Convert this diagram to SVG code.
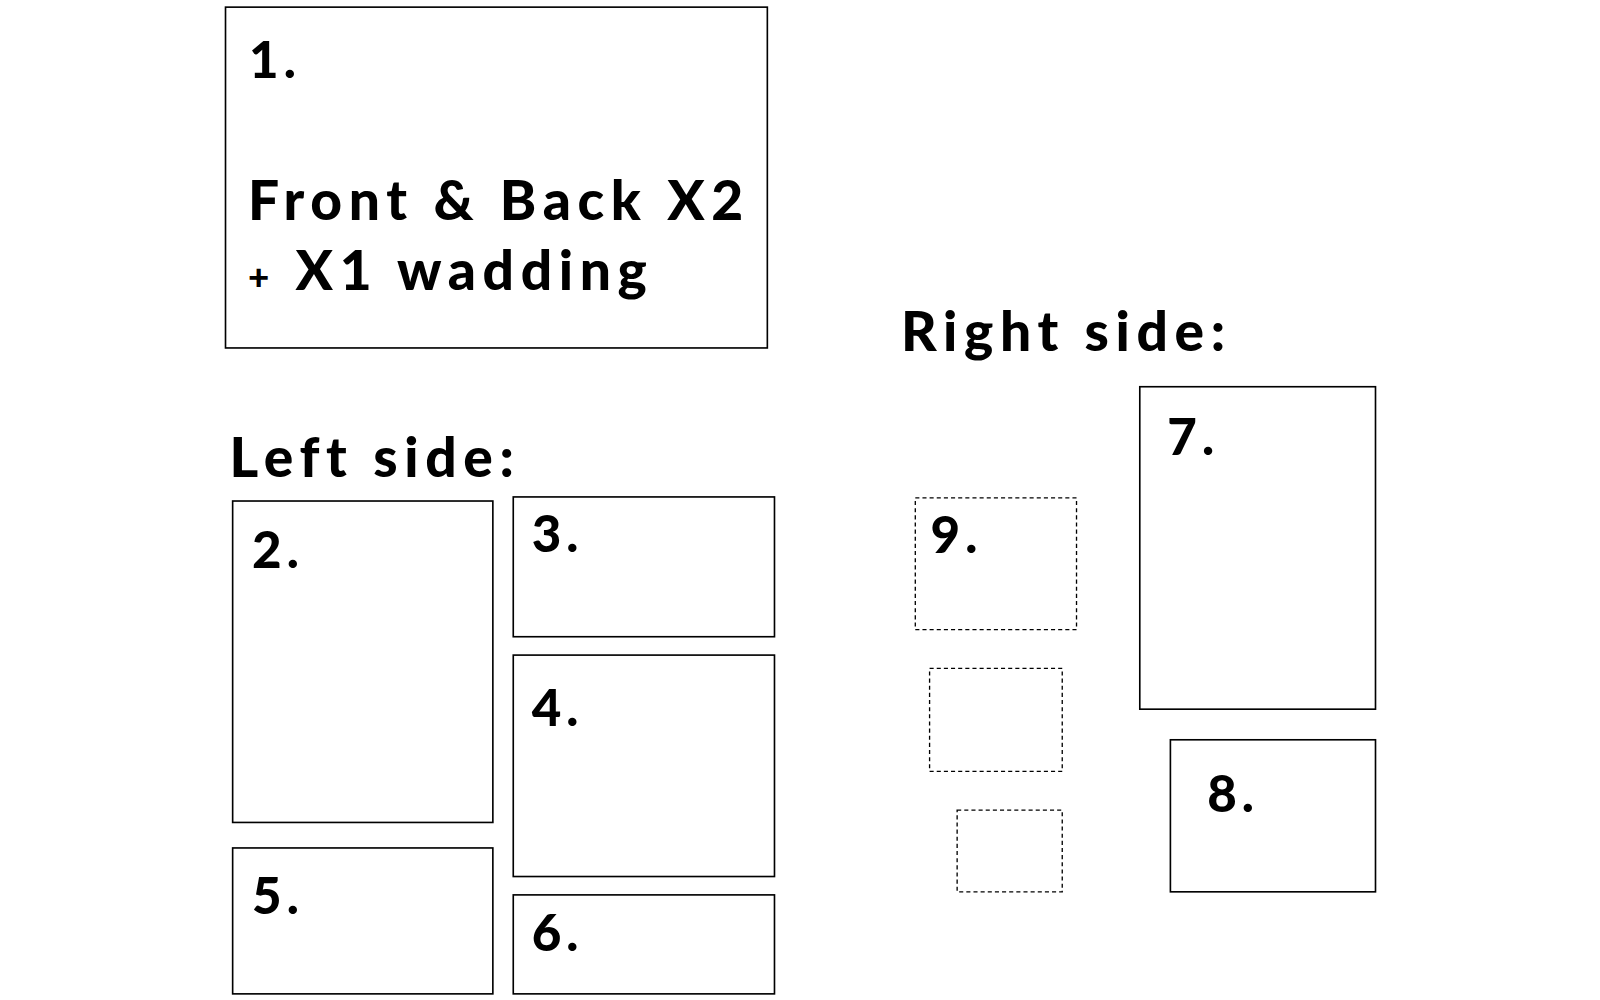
<svg xmlns="http://www.w3.org/2000/svg" width="1600" height="1000" viewBox="0 0 1600 1000">
<style>
.b{fill:#fff;stroke:#000;stroke-width:1.6}
.d{fill:#fff;stroke:#000;stroke-width:1.3;stroke-dasharray:4 3}
text{font-family:"Lato","Liberation Sans",sans-serif;font-weight:900;fill:#000;letter-spacing:5px}
.n{font-size:50px}
.h{font-size:54px;letter-spacing:6.5px}
</style>
<rect width="1600" height="1000" fill="#fff"/>
<g transform="scale(1.0204)">
<g id="node1"><rect class="b" x="221" y="7" width="531" height="334"/>
<text class="n" x="244" y="76">1.</text>
<text class="h" x="243" y="216">Front &amp; Back X2</text>
<text class="h" x="243" y="284"><tspan font-size="36">+</tspan> X1 wadding</text></g>
<text id="left" class="h" x="225" y="467">Left side:</text>
<text id="right" class="h" x="883" y="344">Right side:</text>
<g id="node2"><rect class="b" x="228" y="491" width="255" height="315"/><text class="n" x="247" y="557">2.</text></g>
<g id="node3"><rect class="b" x="503" y="487" width="256" height="137"/><text class="n" x="521" y="541">3.</text></g>
<g id="node4"><rect class="b" x="503" y="642" width="256" height="217"/><text class="n" x="521" y="711">4.</text></g>
<g id="node5"><rect class="b" x="228" y="831" width="255" height="143"/><text class="n" x="247" y="896">5.</text></g>
<g id="node6"><rect class="b" x="503" y="877" width="256" height="97"/><text class="n" x="521" y="932">6.</text></g>
<g id="node7"><rect class="b" x="1117" y="379" width="231" height="316"/><text class="n" x="1144" y="446">7.</text></g>
<g id="node8"><rect class="b" x="1147" y="725" width="201" height="149"/><text class="n" x="1183" y="796">8.</text></g>
<g id="node9"><rect class="d" x="897" y="488" width="158" height="129"/><text class="n" x="912" y="542">9.</text></g>
<g id="dash2"><rect class="d" x="911" y="655" width="130" height="101"/></g>
<g id="dash3"><rect class="d" x="938" y="794" width="103" height="80"/></g>
</g>
<g id="connectors"></g>
</svg>
